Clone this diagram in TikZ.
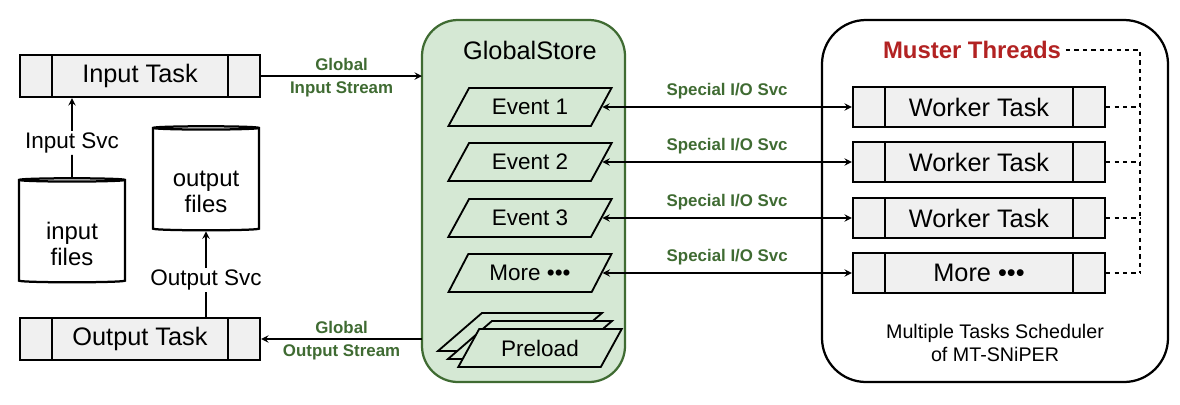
\documentclass[tikz,border=0pt]{standalone}
\usepackage{fontspec}
\setmainfont{Liberation Sans}
\usetikzlibrary{arrows,positioning,shapes.geometric}
\definecolor{storefill}{HTML}{D5E8D4}
\definecolor{storeline}{HTML}{3F6B32}
\definecolor{lbl}{HTML}{3F6B32}
\definecolor{muster}{HTML}{B22222}
\tikzset{%
	task/.style     = {draw, line width=1.6pt, fill=black!6, rectangle, minimum width=#1, minimum height=1.05cm,
	                   font=\fontsize{18}{20}\selectfont,
	                   path picture={\draw[line width=1.6pt] ([xshift=0.8cm]path picture bounding box.south west) -- ([xshift=0.8cm]path picture bounding box.north west)
	                   ([xshift=-0.8cm]path picture bounding box.south east) -- ([xshift=-0.8cm]path picture bounding box.north east);}},
	store/.style    = {draw, line width=1.6pt, cylinder, shape border rotate=90, aspect=0.35, minimum width=2.65cm, minimum height=2.6cm,
	                   align=center, font=\fontsize{17}{19}\selectfont},
	event/.style    = {draw, line width=1.3pt, fill=storefill, trapezium, trapezium left angle=60, trapezium right angle=120,
	                   trapezium stretches=true, minimum width=4.1cm, minimum height=0.95cm, font=\fontsize{16}{18}\selectfont},
	svc/.style      = {fill=white, font=\fontsize{16}{18}\selectfont, inner sep=1pt},
	stream/.style   = {text=lbl, font=\bfseries\fontsize{12}{14}\selectfont},
	arrow/.style    = {line width=1.3pt, ->, >=stealth},
}
\begin{document}
\begin{tikzpicture}[x=0.025cm, y=-0.025cm]
	\useasboundingbox (0,0) rectangle (1180,404);
	% containers
	\draw[line width=1.6pt, draw=storeline, fill=storefill, rounded corners=0.9cm] (422,20) rectangle (625,382);
	\node[font=\fontsize{18}{20}\selectfont] (GS) at (530,50) {GlobalStore};
	\draw[line width=1.6pt, rounded corners=1.1cm] (822,20) rectangle (1168,382);
	\node[text=muster, font=\bfseries\fontsize{17}{19}\selectfont] (MT) at (972,50) {Muster Threads};
	\node[align=center, font=\fontsize{14}{17}\selectfont] (MS) at (995,343) {Multiple Tasks Scheduler\\of MT-SNiPER};
	\coordinate (SIn) at (422,76);
	\coordinate (SOut) at (422,339);
	\coordinate (DTop) at (1140,50);
	
	% left side
	\node[task=6cm] (IT) at (140,76) {Input Task};
	\node[task=6cm] (OT) at (140,339) {Output Task};
	\node[store] (IF) at (72,232) {};
	\node[align=center, font=\fontsize{17}{19}\selectfont] at (72,244) {input\\files};
	\node[store] (OF) at (206,180) {};
	\node[align=center, font=\fontsize{17}{19}\selectfont] at (206,192) {output\\files};
	\node[svc] (IS) at (72,143) {Input Svc};
	\node[svc] (OS) at (206,280) {Output Svc};
	\draw[line width=1.3pt] (IF.north) -- (IS);
	\draw[arrow] (IS) -- (IS |- IT.south);
	\draw[line width=1.3pt] (OT.north -| OS) -- (OS);
	\draw[arrow] (OS) -- (OF.south);
	
	% events
	\node[event] (E1) at (530,107) {Event 1};
	\node[event] (E2) at (530,162) {Event 2};
	\node[event] (E3) at (530,218) {Event 3};
	\node[event] (E4) at (530,273) {More \textbullet\textbullet\textbullet};
	\node[event] (P3) at (520,332) {};
	\node[event] (P2) at (530,340) {};
	\node[event] (P1) at (540,348) {Preload};
	
	% workers
	\foreach \n/\y/\t in {W1/107/Worker Task, W2/162/Worker Task, W3/218/Worker Task, W4/273/More \textbullet\textbullet\textbullet}{
		\node[task=6.3cm, minimum height=1cm] (\n) at (979,\y) {\t};
		\draw[dashed, line width=1pt] (\n.east) -- (\n.east -| DTop);
	}
	\draw[dashed, line width=1pt] (MT.east) -- (DTop) -- (W4.east -| DTop);
	
	% streams
	\draw[arrow] (IT) -- node[stream, above] {Global} node[stream, below] {Input Stream} (SIn);
	\draw[arrow] (SOut) -- node[stream, above] {Global} node[stream, below] {Output Stream} (OT);
	\foreach \e/\w in {E1/W1, E2/W2, E3/W3, E4/W4}
		\draw[arrow, <->] (\e.east) -- node[stream, above, yshift=2pt] {Special I/O Svc} (\w.west);
\end{tikzpicture}
\end{document}
